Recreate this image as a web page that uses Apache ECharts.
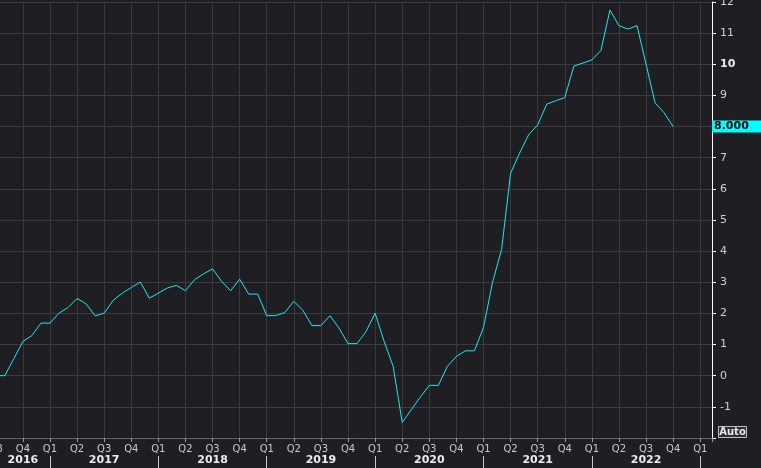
<!DOCTYPE html>
<html><head><meta charset="utf-8">
<script src="https://cdn.jsdelivr.net/npm/echarts@6/dist/echarts.min.js"></script>
<style>html,body{margin:0;padding:0;background:#1f1e22;}#c{width:761px;height:468px;}</style>
</head><body><div id="c"></div>
<script>
const months = [
  '2016-07','2016-08','2016-09','2016-10','2016-11','2016-12',
  '2017-01','2017-02','2017-03','2017-04','2017-05','2017-06','2017-07','2017-08','2017-09','2017-10','2017-11','2017-12',
  '2018-01','2018-02','2018-03','2018-04','2018-05','2018-06','2018-07','2018-08','2018-09','2018-10','2018-11','2018-12',
  '2019-01','2019-02','2019-03','2019-04','2019-05','2019-06','2019-07','2019-08','2019-09','2019-10','2019-11','2019-12',
  '2020-01','2020-02','2020-03','2020-04','2020-05','2020-06','2020-07','2020-08','2020-09','2020-10','2020-11','2020-12',
  '2021-01','2021-02','2021-03','2021-04','2021-05','2021-06','2021-07','2021-08','2021-09','2021-10','2021-11','2021-12',
  '2022-01','2022-02','2022-03','2022-04','2022-05','2022-06','2022-07','2022-08','2022-09','2022-10'
];
const values = [
  0.0, 0.0, 0.55, 1.10, 1.29, 1.69,
  1.69, 2.01, 2.19, 2.48, 2.31, 1.92, 2.01, 2.42, 2.65, 2.83, 3.01, 2.49,
  2.65, 2.82, 2.90, 2.73, 3.08, 3.27, 3.43, 3.03, 2.73, 3.10, 2.62, 2.62,
  1.93, 1.93, 2.03, 2.39, 2.10, 1.61, 1.61, 1.93, 1.53, 1.03, 1.03, 1.42,
  2.01, 1.10, 0.30, -1.50, -1.09, -0.69, -0.31, -0.31, 0.30, 0.62, 0.80, 0.80,
  1.55, 3.00, 4.05, 6.50, 7.15, 7.74, 8.05, 8.72, 8.83, 8.93, 9.94, 10.04,
  10.14, 10.44, 11.74, 11.24, 11.13, 11.24, 10.00, 8.76, 8.44, 8.00
];
const quarterLabels = ['Q1','Q2','Q3','Q4'];
const yearLabels = ['2016','2017','2018','2019','2020','2021','2022'];
const yearLabelMonths = ['2016-10','2017-07','2018-07','2019-07','2020-07','2021-07','2022-07'];
const yearBoundaryMonths = ['2017-01','2018-01','2019-01','2020-01','2021-01','2022-01','2023-01'];
const axisStartMonth = '2016-07';
const axisEndMonth = 73.3; // months after Jan 2017 at right edge
const yMin = -2, yMax = 12;

function monthIndex(s){ const p = s.split('-').map(Number); return (p[0]-2017)*12 + (p[1]-1); }
const data = months.map((m,i)=>[monthIndex(m), values[i]]);
const yearLabelPos = yearLabelMonths.map(monthIndex);
const yearBoundaryPos = yearBoundaryMonths.map(monthIndex);
const xMin = monthIndex(axisStartMonth);
const FONT = 'DejaVu Sans';

const chart = echarts.init(document.getElementById('c'), null, {renderer:'canvas'});
chart.setOption({
  backgroundColor:'#1f1e22',
  animation:false,
  grid:{left:-4.2, right:49, top:2, bottom:30, outerBoundsMode:'none', containLabel:false},
  xAxis:[
    {type:'value', min:xMin, max:axisEndMonth, interval:3, position:'bottom',
     axisLine:{show:true, onZero:false, lineStyle:{color:'#626262'}},
     axisTick:{show:true, length:4, lineStyle:{color:'#9a9a9a'}},
     axisLabel:{margin:6, color:'#c8c8cc', fontSize:10, fontFamily:FONT, showMinLabel:true, showMaxLabel:true,
       formatter:function(v){ if(!Number.isInteger(v) || v%3!==0) return ''; return quarterLabels[(((v%12)+12)%12)/3]; }},
     splitLine:{show:true, lineStyle:{color:'#3b3b3b', width:1}}},
    {type:'value', min:xMin, max:axisEndMonth, position:'bottom', offset:18,
     axisLine:{show:false, onZero:false},
     axisTick:{show:true, customValues:yearBoundaryPos, length:12, lineStyle:{color:'#c8c8c8'}},
     axisLabel:{customValues:yearLabelPos, margin:-1, color:'#ececec', fontWeight:'bold', fontSize:11, fontFamily:FONT,
       formatter:function(v){ const i = yearLabelPos.indexOf(v); return i>=0 ? yearLabels[i] : ''; }},
     splitLine:{show:false}}
  ],
  yAxis:{type:'value', position:'right', min:yMin, max:yMax, interval:1,
    axisLine:{show:true, onZero:false, lineStyle:{color:'#ffffff'}},
    axisTick:{show:true, length:4, lineStyle:{color:'#ffffff'}},
    axisLabel:{margin:8, color:'#c9d1de', fontSize:11, fontFamily:FONT,
      formatter:function(v){ if(v===yMin) return ''; return v===10 ? '{b|10}' : String(v); },
      rich:{b:{fontWeight:'bold', color:'#e8eef8', fontSize:11, fontFamily:FONT}}},
    splitLine:{show:true, lineStyle:{color:'#3b3b3b', width:1}}},
  series:[{type:'line', xAxisIndex:0, data:data, showSymbol:false, symbol:'none',
    lineStyle:{color:'#22e6f2', width:1},
    markLine:{silent:true, symbol:'none', lineStyle:{color:'rgba(0,0,0,0)', width:0},
      label:{show:true, position:'end', distance:0, formatter:values[values.length-1].toFixed(3),
        backgroundColor:'#00ffff', color:'#000000', fontWeight:'bold', fontFamily:FONT, fontSize:11,
        padding:[1,2,0,2], width:45, height:11, lineHeight:12, opacity:1},
      emphasis:{disabled:true},
      data:[{yAxis:values[values.length-1]}]}
  }],
  graphic:[
    {type:'group', right:14, bottom:30, children:[
      {type:'rect', shape:{x:0,y:0,width:28,height:11}, style:{fill:'#30303c', stroke:'#c0c0c8', lineWidth:1}},
      {type:'text', x:14, y:6, style:{text:'Auto', fill:'#e8e8f0', font:'bold 10px "DejaVu Sans"', align:'center', verticalAlign:'middle'}}
    ]}
  ]
});
</script></body></html>
